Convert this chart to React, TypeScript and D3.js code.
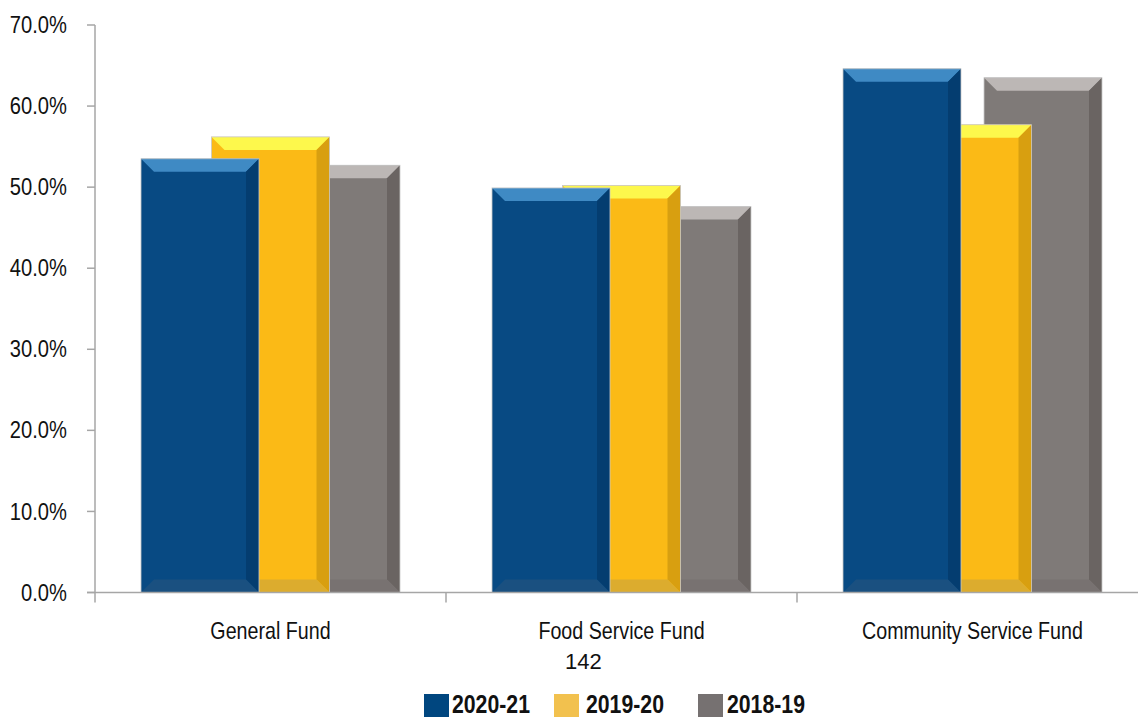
import React, { useEffect } from "react";
import * as d3 from "d3";

const categories = ["General Fund", "Food Service Fund", "Community Service Fund"];
const seriesNames = ["2020-21", "2019-20", "2018-19"];
const values2020 = [53.5, 49.9, 64.6];
const values2019 = [56.2, 50.2, 57.7];
const values2018 = [52.7, 47.6, 63.5];
const yTicks = [0, 10, 20, 30, 40, 50, 60, 70];

const seriesValues = [values2020, values2019, values2018];

// face / top bevel / right bevel / bottom bevel / legend swatch
const palettes = [
  { face: "#084a83", top: "#3f8ac4", right: "#043d70", bottom: "#1a5080", legend: "#00467f" },
  { face: "#fbba16", top: "#fdf84c", right: "#d89f10", bottom: "#dcac2e", legend: "#f2c14e" },
  { face: "#7f7a78", top: "#bcb7b5", right: "#6a6462", bottom: "#787271", legend: "#767171" },
];

const W = 1138;
const H = 719;
const axisX = 95;
const baseY = 592.5;
const topY = 25;
const barW = 118;
const seriesStep = 70.5;
const bevel = 13;

const font = "'Liberation Sans', Arial, sans-serif";
const squeeze = 0.82; // narrow the glyphs, the original uses a condensed face

// condensed text: scaled horizontally about its anchor point
const NarrowText: React.FC<{
  x: number;
  y: number;
  anchor?: "start" | "middle" | "end";
  size: number;
  bold?: boolean;
  sx?: number;
  children: React.ReactNode;
}> = ({ x, y, anchor = "start", size, bold, sx = squeeze, children }) => (
  <text
    transform={`translate(${x},${y}) scale(${sx},1)`}
    textAnchor={anchor}
    dominantBaseline="central"
    fontFamily={font}
    fontSize={size}
    fontWeight={bold ? "bold" : "normal"}
    fill="#111"
  >
    {children}
  </text>
);

const App: React.FC = () => {
  useEffect(() => {
    document.body.style.margin = "0";
  }, []);

  const x = d3.scaleBand<string>().domain(categories).range([axisX, 1148]).padding(0);
  const y = d3.scaleLinear().domain([0, 70]).range([baseY, topY]);
  const fmt = d3.format(".1f");

  const bars: React.ReactNode[] = [];
  categories.forEach((cat, ci) => {
    const center = x(cat)! + x.bandwidth() / 2;
    // back to front: 2018-19, 2019-20, 2020-21
    for (let si = seriesNames.length - 1; si >= 0; si--) {
      const p = palettes[si];
      const x0 = center + (si - 1) * seriesStep - barW / 2;
      const x1 = x0 + barW;
      const yt = y(seriesValues[si][ci]);
      const yb = y(0);
      const pts = (a: number[][]) => a.map((q) => q.join(",")).join(" ");
      bars.push(
        <g key={`${ci}-${si}`}>
          <rect x={x0} y={yt} width={barW} height={yb - yt} fill={p.face} />
          <polygon
            points={pts([[x0, yt], [x1, yt], [x1 - bevel, yt + bevel], [x0 + bevel, yt + bevel]])}
            fill={p.top}
          />
          <polygon
            points={pts([[x1, yt], [x1, yb], [x1 - bevel, yb - bevel], [x1 - bevel, yt + bevel]])}
            fill={p.right}
          />
          <polygon
            points={pts([[x0, yb], [x1, yb], [x1 - bevel, yb - bevel], [x0 + bevel, yb - bevel]])}
            fill={p.bottom}
          />
          <rect
            x={x0}
            y={yt}
            width={barW}
            height={yb - yt}
            fill="none"
            stroke="#c8c8c8"
            strokeWidth={0.8}
          />
        </g>
      );
    }
  });

  const legendItems = [
    { sx: 424, tx: 452 },
    { sx: 554, tx: 586 },
    { sx: 698, tx: 727 },
  ];

  return (
    <svg width={W} height={H} style={{ display: "block", background: "#fff" }}>
      {/* y axis */}
      <line x1={axisX} x2={axisX} y1={topY} y2={baseY} stroke="#a6a6a6" strokeWidth={1.5} />
      {yTicks.map((t) => (
        <g key={t}>
          <line x1={axisX - 8} x2={axisX} y1={y(t)} y2={y(t)} stroke="#a6a6a6" strokeWidth={1.5} />
          <NarrowText x={67} y={y(t)} anchor="end" size={24} sx={0.84}>
            {fmt(t)}%
          </NarrowText>
        </g>
      ))}

      {bars}

      {/* x axis */}
      <line x1={axisX - 8} x2={W} y1={baseY} y2={baseY} stroke="#a6a6a6" strokeWidth={1.5} />
      {categories.map((cat) => (
        <line
          key={cat}
          x1={x(cat)!}
          x2={x(cat)!}
          y1={baseY}
          y2={baseY + 10}
          stroke="#a6a6a6"
          strokeWidth={1.5}
        />
      ))}
      {categories.map((cat) => (
        <NarrowText key={cat} x={x(cat)! + x.bandwidth() / 2} y={631} anchor="middle" size={24}>
          {cat}
        </NarrowText>
      ))}

      <text x={565} y={661} dominantBaseline="central" fontFamily={font} fontSize={22} fill="#111">
        142
      </text>

      {/* legend */}
      {seriesNames.map((name, i) => (
        <g key={name}>
          <rect x={legendItems[i].sx} y={694} width={25} height={23} fill={palettes[i].legend} />
          <NarrowText x={legendItems[i].tx} y={704} size={25} bold sx={0.85}>
            {name}
          </NarrowText>
        </g>
      ))}
    </svg>
  );
};

export default App;
